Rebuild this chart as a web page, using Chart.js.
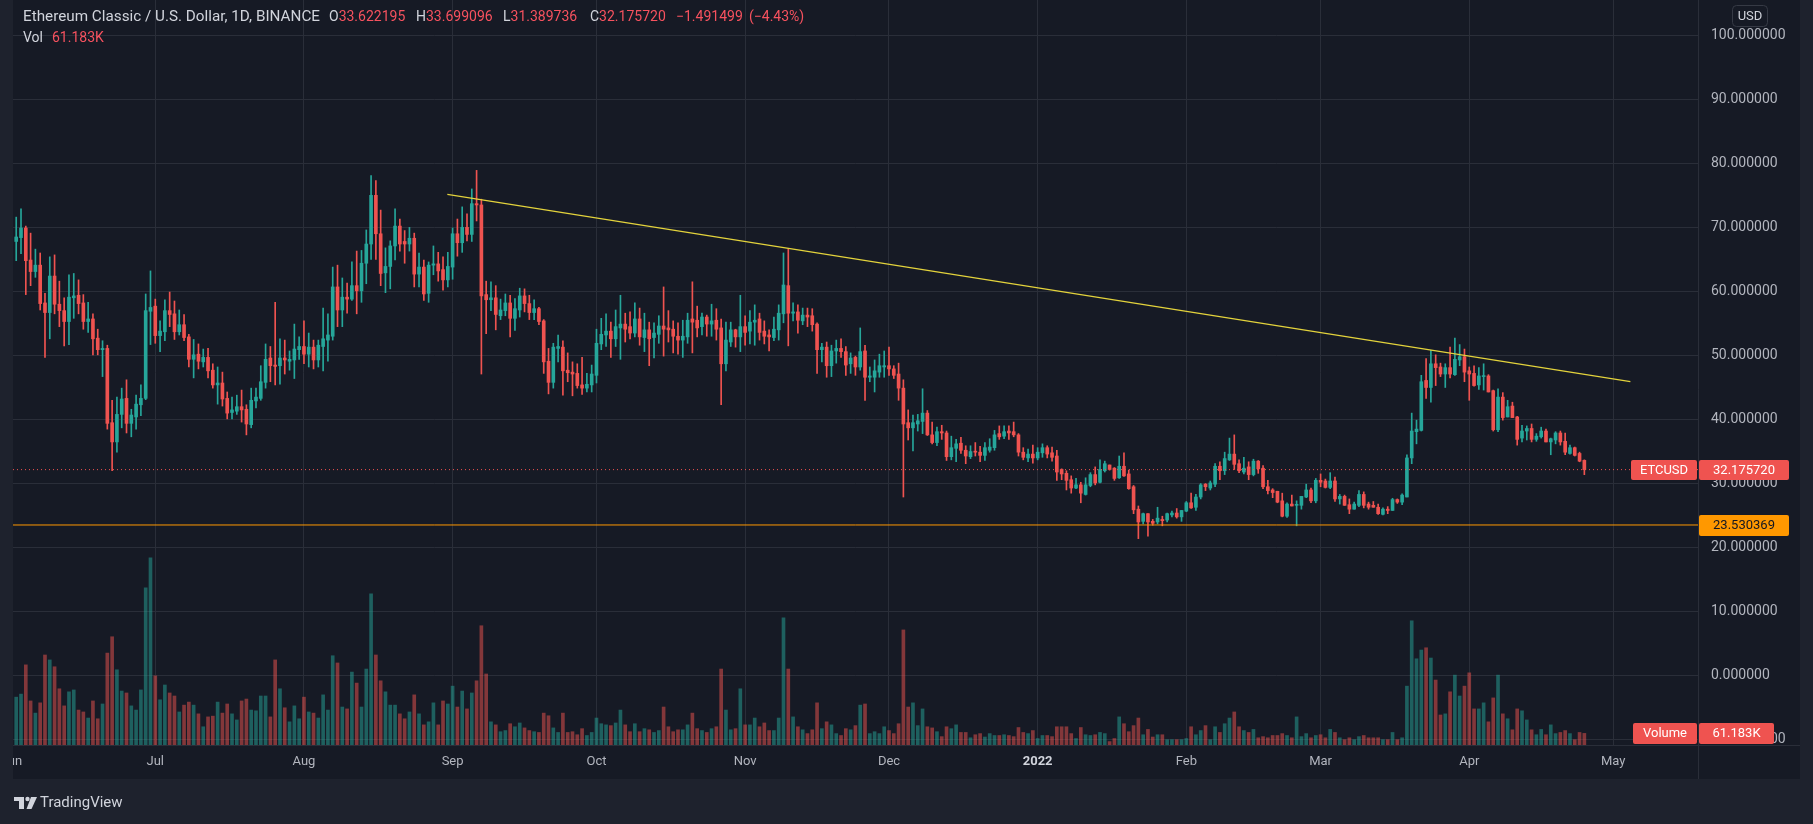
<!DOCTYPE html>
<html>
<head>
<meta charset="utf-8">
<script src="https://cdn.jsdelivr.net/npm/chart.js@4.4.1/dist/chart.umd.min.js"></script>
<style>
  html, body { margin: 0; padding: 0; background: #1e222d; overflow: hidden; }
  canvas { display: block; }
</style>
</head>
<body>
<canvas id="chart" width="1813" height="824"></canvas>
<script>
/* global Chart */

// ETC/USD daily candles, 2 Jun 2021 .. 25 Apr 2022 (one value per day)
const startDay = Date.UTC(2021, 5, 2);

const opens = [
  67.8,68.4,69.9,64.9,63.1,64.1,58.2,56.7,62.4,58.0,57.0,55.3,59.0,59.4,58.2,55.3,55.7,52.7,50.9,51.1,39.5,36.5,40.8,43.3,39.4,40.4,42.3,43.3,56.9,
  57.7,53.1,53.7,57.0,56.5,53.7,54.8,52.9,49.4,50.2,49.0,49.7,47.7,45.4,45.7,43.3,
  41.1,41.3,42.0,41.6,39.2,42.9,43.3,45.8,49.6,48.5,48.4,49.6,49.1,49.3,50.9,
  51.4,50.2,51.3,49.3,51.4,52.4,53.0,60.7,57.1,59.1,58.8,60.9,60.1,64.4,67.4,75.0,69.0,62.9,63.9,67.1,70.2,67.8,67.4,68.3,62.7,63.8,59.7,64.1,64.3,63.4,61.8,
  63.8,69.0,67.6,70.0,68.9,73.7,73.5,59.5,58.7,59.0,56.2,57.0,58.2,55.8,57.1,59.3,58.1,56.7,57.3,55.4,49.1,45.8,51.1,51.3,47.7,47.4,47.2,45.4,44.9,45.4,
  46.9,51.8,53.2,53.8,52.6,54.3,54.9,54.5,53.5,55.7,52.8,54.0,52.8,53.3,54.6,54.3,54.1,53.0,52.4,52.9,55.7,55.5,54.5,56.0,54.9,55.5,54.3,48.7,52.1,54.0,52.9,
  54.5,53.8,55.2,55.7,53.8,53.2,52.8,54.0,56.5,60.9,56.6,56.8,55.4,56.3,56.2,54.9,50.9,51.3,48.4,50.7,51.1,50.6,48.7,49.7,48.2,50.7,46.6,46.6,47.4,48.2,
  48.4,47.9,47.1,44.9,39.5,38.7,39.3,39.7,41.0,37.6,36.4,38.1,37.9,34.2,35.5,36.3,35.2,34.2,35.0,34.9,34.4,35.2,35.6,37.8,37.4,38.2,38.1,37.6,34.9,34.0,34.6,
  34.0,34.8,35.6,34.8,34.3,32.2,31.6,30.6,29.3,29.8,28.3,29.7,31.4,30.2,32.0,32.9,32.4,30.9,32.7,31.5,29.5,26.0,24.1,25.3,24.1,24.0,24.4,24.3,25.1,25.4,24.8,
  25.7,27.0,26.3,27.9,29.9,29.3,29.9,32.7,32.0,33.7,34.6,33.1,31.8,32.6,31.4,33.5,32.4,29.5,29.0,28.8,27.3,24.9,26.8,26.6,26.6,27.9,29.0,27.3,
  30.5,30.4,29.4,30.4,27.6,28.0,26.7,26.0,26.6,28.3,26.8,26.6,26.3,25.2,26.0,25.8,27.5,27.1,27.9,34.0,38.1,38.3,46.1,45.0,48.7,48.2,47.1,48.1,47.0,49.3,49.8,
  47.6,47.2,45.4,46.7,46.8,44.5,38.4,43.5,40.4,42.1,40.4,37.1,38.2,38.6,36.9,37.3,38.2,36.5,36.8,37.9,36.6,34.7,35.6,34.7,33.622195
];

const highs = [
  71.6,72.9,70.2,69.1,66.6,66.0,59.7,65.4,65.7,61.6,59.0,62.6,62.8,61.8,59.5,58.3,56.5,54.1,52.3,51.6,43.0,43.5,44.9,46.2,41.6,43.8,45.4,59.6,63.2,
  58.8,55.4,58.7,59.9,58.5,57.1,56.4,53.3,52.5,51.8,51.0,51.1,48.7,48.2,47.4,44.3,
  43.5,43.8,44.6,42.3,44.9,44.9,48.4,51.8,51.4,58.3,52.6,52.4,50.7,54.9,52.9,
  55.4,53.5,52.4,52.4,57.4,56.5,63.8,64.1,62.1,61.3,64.6,66.3,66.4,69.6,78.1,77.3,72.7,66.8,67.9,72.9,71.3,69.5,70.0,69.1,66.0,64.9,64.6,67.1,66.1,65.4,66.1,
  69.9,71.3,73.2,72.1,76.0,78.9,74.4,61.6,61.5,60.9,58.8,59.6,59.4,58.9,60.5,60.4,59.4,58.7,57.5,55.6,51.1,51.9,53.2,52.3,50.4,49.0,48.7,49.7,47.2,48.5,
  54.1,55.8,56.5,55.2,57.1,59.4,56.6,56.8,58.2,57.4,56.6,55.2,55.1,56.2,60.7,57.0,55.4,55.1,55.5,56.6,61.5,57.7,56.6,56.3,58.0,57.3,55.7,55.2,55.2,54.1,59.4,
  56.2,57.0,57.9,56.6,55.4,54.0,56.0,57.9,66.0,66.6,58.2,57.9,57.4,57.4,57.3,55.1,51.9,52.1,51.6,52.4,52.6,51.4,50.4,49.9,54.3,51.6,48.2,49.3,50.2,50.7,
  51.3,48.4,48.8,46.2,41.5,40.7,40.8,44.8,41.4,39.6,38.8,39.1,38.2,37.4,36.9,37.2,35.9,35.9,36.4,35.8,36.4,37.0,38.3,39.0,39.0,39.0,39.6,37.8,35.6,35.4,36.0,
  35.6,36.2,35.9,35.7,35.2,32.3,32.0,31.2,30.8,30.2,30.9,31.7,32.6,33.7,33.5,32.9,32.5,34.3,34.8,32.1,29.7,26.5,25.4,25.3,24.4,26.3,24.9,25.4,25.7,26.1,25.8,
  27.2,28.5,28.3,30.0,30.0,30.4,33.1,33.4,34.9,37.1,37.6,33.7,34.1,33.4,33.8,33.6,32.8,30.5,29.2,28.8,28.5,27.0,28.2,27.3,28.0,29.9,29.3,30.8,
  31.5,30.7,31.7,31.0,28.3,28.2,27.6,27.1,28.9,28.7,27.1,27.2,26.8,26.2,26.4,27.7,27.6,28.4,34.5,41.0,39.9,46.9,49.5,50.8,50.1,48.8,48.7,51.3,52.7,51.7,51.0,
  48.2,48.4,48.1,48.7,47.0,44.6,44.8,44.2,43.0,42.7,40.5,39.1,39.0,39.3,37.8,38.8,38.5,37.1,38.1,38.2,37.9,36.0,35.7,34.9,33.699096
];

const lows = [
  64.8,65.9,59.5,60.9,62.2,57.1,49.7,52.6,56.5,54.5,51.5,51.7,55.8,56.5,54.1,53.6,50.1,50.1,46.7,38.5,32.0,34.9,38.7,37.9,37.3,38.5,40.6,43.1,51.7,
  51.9,50.6,52.3,54.5,52.5,53.2,52.3,48.2,46.5,47.9,48.2,46.5,44.9,42.4,42.1,40.1,
  40.1,40.8,39.6,37.6,38.7,41.8,43.0,44.9,45.9,45.4,45.5,47.1,47.7,46.4,49.4,
  48.7,48.2,47.9,48.2,47.6,49.1,52.4,54.5,54.5,56.6,58.6,56.5,58.3,61.2,65.0,65.0,60.9,59.8,60.4,64.9,66.3,64.4,66.3,60.7,60.7,58.6,58.3,62.6,61.6,60.2,60.7,
  61.9,65.5,66.1,67.9,67.8,71.0,47.1,53.4,57.0,54.0,55.6,56.2,52.9,53.9,56.0,56.8,55.6,55.6,54.8,47.2,44.0,44.9,49.0,43.8,45.9,43.7,44.9,43.9,44.3,44.3,
  45.7,50.9,51.4,49.7,51.4,49.4,52.1,52.6,52.9,51.6,50.6,48.4,49.6,51.9,49.9,52.1,50.4,50.2,49.7,51.9,50.4,52.9,53.2,53.0,53.0,52.4,42.3,47.6,51.4,51.3,50.6,
  51.6,51.8,51.6,52.4,51.8,50.7,52.3,52.4,55.1,51.5,55.4,53.5,54.8,54.5,53.8,47.2,49.0,46.6,46.7,48.8,49.7,46.9,47.2,46.9,47.7,43.0,45.9,44.3,46.6,46.6,
  46.9,46.4,43.0,27.9,36.8,35.1,38.2,37.8,37.5,36.2,35.9,36.9,33.6,33.7,33.4,34.7,33.1,33.9,34.3,33.4,33.6,34.9,35.2,36.9,37.0,36.9,37.3,34.3,33.7,33.4,33.2,
  33.7,34.1,34.0,33.5,30.5,30.6,29.0,28.5,29.2,27.0,28.2,29.5,29.8,30.1,31.8,32.1,30.5,30.8,31.1,29.1,25.3,21.4,23.7,21.8,23.5,23.7,23.4,24.0,24.8,24.6,24.1,
  25.6,26.1,25.8,27.6,28.9,29.0,29.5,30.6,31.4,33.6,32.2,31.7,31.5,30.6,31.2,31.6,29.2,28.4,27.8,27.0,24.8,24.7,26.5,23.4,26.0,27.8,27.0,27.0,
  29.5,29.3,29.2,27.2,26.8,26.6,25.3,26.0,26.4,26.2,26.0,26.3,25.2,25.1,25.3,25.8,26.9,26.7,27.9,33.1,36.2,38.2,43.3,42.7,45.3,46.7,45.0,46.5,46.9,48.4,45.9,
  43.0,45.2,44.7,44.6,44.3,38.2,38.1,39.9,40.4,40.3,36.0,36.5,36.8,36.5,36.6,37.1,36.5,34.5,36.2,36.0,34.5,34.6,34.3,33.4,31.389736
];

const closes = [
  68.5,69.9,64.8,63.1,64.1,58.1,56.7,62.4,58.0,57.0,55.3,59.1,59.3,58.1,55.3,55.7,52.6,50.9,51.1,39.4,36.5,40.8,43.2,39.4,40.7,42.4,43.3,57.0,57.5,
  53.1,53.8,57.0,56.4,53.7,54.8,52.8,49.4,50.1,49.1,49.7,47.6,45.4,45.7,43.2,41.0,
  41.5,42.0,41.5,39.3,43.0,43.5,45.9,49.4,48.4,48.3,49.6,49.3,49.4,51.0,51.4,
  50.2,51.3,49.3,51.6,52.6,53.2,60.7,57.1,59.1,58.8,60.9,60.1,64.4,67.4,75.0,69.0,62.8,63.9,67.1,70.2,67.4,67.4,68.3,62.7,63.8,59.6,64.1,64.3,63.2,61.8,63.9,
  69.0,67.6,70.0,68.9,73.7,73.5,59.3,58.7,59.0,56.4,57.1,58.2,55.8,57.3,59.3,58.1,56.7,57.3,55.3,49.0,45.8,51.3,51.4,47.6,47.3,47.1,45.3,44.9,45.5,47.1,
  51.9,53.3,53.8,52.6,54.5,54.9,54.1,53.5,55.7,52.9,54.0,52.6,53.5,54.6,54.1,54.0,53.0,52.4,53.0,55.5,55.2,54.3,56.0,54.9,55.4,54.1,48.7,52.4,54.0,52.9,54.5,
  53.6,55.2,55.5,53.6,53.0,52.9,54.1,56.6,61.0,56.6,56.8,55.5,56.3,56.0,54.8,50.9,51.3,48.4,50.7,51.1,50.6,48.5,49.6,48.2,50.6,46.6,46.8,47.6,48.4,48.4,
  47.9,46.9,44.9,39.3,38.7,39.5,39.8,41.0,37.6,36.4,38.1,37.9,34.2,35.6,36.2,35.2,34.3,35.0,34.9,34.4,35.6,35.7,37.6,37.3,38.1,37.9,37.6,34.9,34.1,34.6,34.0,
  34.9,35.6,34.6,34.1,31.8,31.5,30.5,29.3,29.8,28.5,29.8,31.4,30.1,32.2,33.1,32.2,30.8,32.7,31.2,29.2,25.9,24.0,25.3,24.0,23.8,24.6,24.2,25.3,25.4,24.8,25.8,
  27.0,26.2,27.9,29.8,29.5,30.1,32.7,32.0,33.9,34.6,33.0,32.0,32.4,31.4,33.5,32.3,29.5,28.9,28.6,27.1,24.9,26.8,26.5,26.7,28.0,29.0,27.3,30.5,
  30.2,29.4,30.4,27.6,28.0,26.6,26.0,26.8,28.3,26.6,26.3,26.3,25.3,26.0,25.8,27.5,27.1,28.2,34.0,38.2,38.5,45.9,45.0,48.7,48.1,47.1,48.1,47.1,49.4,49.8,47.4,
  47.1,45.3,46.8,46.8,44.3,38.4,43.5,40.3,42.0,40.3,36.9,38.2,38.6,36.9,37.4,38.2,36.5,37.0,37.9,36.5,34.9,35.6,34.4,33.5,32.175720
];

// daily volume, thousands
const volumes = [
  252,268,422,232,168,222,474,448,412,296,206,280,290,184,174,142,232,138,216,484,570,396,284,274,206,184,290,828,986,
  364,238,316,274,258,174,210,226,210,164,96,148,152,226,168,216,
  164,132,232,242,184,180,258,258,148,448,296,196,122,206,138,
  252,174,168,142,264,184,470,432,200,190,384,326,200,400,796,474,338,280,210,210,164,138,174,264,164,106,122,222,106,232,216,
  310,200,284,190,274,338,628,374,122,106,70,76,112,96,116,90,76,70,66,168,154,90,66,168,66,70,54,86,50,66,
  142,112,106,102,116,184,106,70,112,70,86,80,66,76,200,96,70,80,80,106,168,86,76,66,86,96,400,184,80,86,296,
  106,106,142,96,116,76,76,142,670,400,148,96,80,60,80,222,86,122,106,60,50,86,80,102,210,216,60,70,60,96,
  76,60,112,606,200,222,102,190,96,90,70,44,96,86,106,66,66,38,54,60,42,60,50,50,54,50,44,92,66,60,76,
  34,50,50,44,96,96,96,60,34,92,54,50,54,66,60,18,34,148,112,70,102,142,54,82,42,54,54,28,28,28,28,
  34,96,54,76,102,28,96,66,112,142,174,96,76,66,82,38,44,38,50,50,60,50,38,148,44,60,38,50,
  54,38,82,66,38,28,38,28,44,50,38,38,38,28,28,66,28,38,310,654,454,500,512,458,342,158,164,280,368,258,310,
  380,190,190,222,122,248,368,164,138,80,190,180,132,80,54,82,54,106,60,66,76,60,28,66,61.183
];

// month ticks along the time axis, first one is 1 Jun 2021
const tickLabels = ["Jun", "Jul", "Aug", "Sep", "Oct", "Nov", "Dec", "2022", "Feb", "Mar", "Apr", "May"];
const priceTicks = [-10, 0, 10, 20, 30, 40, 50, 60, 70, 80, 90, 100];

// drawn levels: falling resistance (day index, price) and horizontal support
const trendDays = [89.9, 336.6];
const trendPrices = [75.15, 45.9];
const supportLevel = 23.530369;

const symbolTitle = "Ethereum Classic / U.S. Dollar, 1D, BINANCE";
const dayChange = -1.491499;
const dayChangePct = -4.43;

const UP = "#26a69a";
const DOWN = "#ef5350";
const UP_VOL = "rgba(38,166,154,0.5)";
const DOWN_VOL = "rgba(239,83,80,0.5)";
const PANE = "#161a25";
const FRAME = "#1e222d";
const LINE = "#2a2e39";
const TEXT = "#d1d4dc";
const AXIS_TEXT = "#b2b5be";
const RED_TEXT = "#f7525f";
const FONT = "Roboto";

const X_MIN = -0.67;
const X_MAX = 350.7;
const DAY = 86400000;

const monthTicks = tickLabels.map((_, k) => (Date.UTC(2021, 5 + k, 1) - startDay) / DAY);
const lastClose = closes[closes.length - 1];

const isUp = (i) => closes[i] >= opens[i];
const idx = opens.map((_, i) => i);
const candleColors = idx.map((i) => (isUp(i) ? UP : DOWN));
const volColors = idx.map((i) => (isUp(i) ? UP_VOL : DOWN_VOL));

const fmtPrice = (v) => v.toFixed(6).replace("-", "\u2212");

function labelBox(ctx, x, y, w, h, fill, text, color) {
  ctx.fillStyle = fill;
  ctx.beginPath();
  ctx.roundRect(x, y, w, h, 2);
  ctx.fill();
  ctx.fillStyle = color;
  ctx.textAlign = "center";
  ctx.fillText(text, x + w / 2, y + h / 2 + 0.5);
}

// draw text squeezed/stretched to a given width
function fitText(ctx, text, x, y, w) {
  const m = ctx.measureText(text).width;
  ctx.save();
  ctx.translate(x, y);
  ctx.scale(w / m, 1);
  ctx.fillText(text, 0, 0);
  ctx.restore();
}

const decor = {
  id: "decor",
  beforeDraw(chart) {
    const { ctx, width, height, chartArea: a, scales } = chart;
    ctx.save();
    ctx.fillStyle = FRAME;
    ctx.fillRect(0, 0, width, height);
    ctx.fillStyle = PANE;
    ctx.fillRect(a.left, 0, scales.y.right - a.left, scales.x.bottom);
    ctx.restore();
  },
  afterDraw(chart) {
    const { ctx, chartArea: a, scales } = chart;
    const y = scales.y;
    const yv = scales.yv;
    const xb = scales.x.bottom;
    ctx.save();

    // outer frame on the left clips the first month label
    ctx.fillStyle = FRAME;
    ctx.fillRect(0, 0, a.left, xb);

    // pane dividers
    ctx.strokeStyle = LINE;
    ctx.lineWidth = 1;
    ctx.beginPath();
    ctx.moveTo(a.right + 0.5, 0);
    ctx.lineTo(a.right + 0.5, xb);
    ctx.moveTo(a.left, a.bottom + 0.5);
    ctx.lineTo(y.right, a.bottom + 0.5);
    ctx.stroke();

    // legend lines
    ctx.textBaseline = "middle";
    ctx.textAlign = "left";
    ctx.font = `14px ${FONT}`;
    ctx.fillStyle = TEXT;
    fitText(ctx, symbolTitle, 23, 17, 297);
    const n = closes.length - 1;
    const ohlc = [["O", opens[n], 329], ["H", highs[n], 416], ["L", lows[n], 503], ["C", closes[n], 590]];
    for (const [k, v, x] of ohlc) {
      ctx.fillStyle = TEXT;
      ctx.fillText(k, x, 17);
      ctx.fillStyle = RED_TEXT;
      ctx.fillText(v.toFixed(6), x + ctx.measureText(k).width, 17);
    }
    ctx.fillStyle = RED_TEXT;
    ctx.fillText(fmtPrice(dayChange), 676, 17);
    ctx.fillText(`(${dayChangePct.toFixed(2).replace("-", "\u2212")}%)`, 749, 17);
    ctx.fillStyle = TEXT;
    ctx.fillText("Vol", 23, 38);
    ctx.fillStyle = RED_TEXT;
    ctx.fillText(`${volumes[n].toFixed(3)}K`, 52, 38);

    // price scale labels
    ctx.font = `13px ${FONT}`;
    const axL = a.right + 1;
    const yc = Math.round(y.getPixelForValue(lastClose));
    labelBox(ctx, a.right - 67, yc - 10, 66, 20, DOWN, "ETCUSD", "#ffffff");
    labelBox(ctx, axL, yc - 10, 90, 20, DOWN, fmtPrice(lastClose), "#ffffff");
    const ys = Math.round(y.getPixelForValue(supportLevel));
    labelBox(ctx, axL, ys - 10, 90, 21, "#ff9800", fmtPrice(supportLevel), "#131722");
    const yvol = Math.min(Math.round(yv.getPixelForValue(volumes[n])), a.bottom - 11);
    labelBox(ctx, a.right - 65, yvol - 10, 64, 21, DOWN, "Volume", "#ffffff");
    labelBox(ctx, axL, yvol - 10, 75, 21, DOWN, `${volumes[n].toFixed(3)}K`, "#ffffff");

    // currency badge
    ctx.strokeStyle = "#363a45";
    ctx.fillStyle = PANE;
    ctx.beginPath();
    ctx.roundRect(1732.5, 5.5, 35, 21, 4);
    ctx.fill();
    ctx.stroke();
    ctx.fillStyle = TEXT;
    ctx.textAlign = "center";
    ctx.fillText("USD", 1750, 16.5);

    // TradingView logo
    const ly = 803;
    ctx.fillStyle = TEXT;
    ctx.fillRect(14, ly - 6, 10, 4);
    ctx.fillRect(19, ly - 6, 5, 12);
    ctx.beginPath();
    ctx.arc(27.5, ly - 4, 2.2, 0, Math.PI * 2);
    ctx.fill();
    ctx.beginPath();
    ctx.moveTo(31, ly - 6);
    ctx.lineTo(37, ly - 6);
    ctx.lineTo(31.5, ly + 6);
    ctx.lineTo(26.5, ly + 6);
    ctx.closePath();
    ctx.fill();
    ctx.textAlign = "left";
    ctx.font = `15px ${FONT}`;
    ctx.fillText("TradingView", 40, ly);

    ctx.restore();
  },
};

Chart.defaults.font.family = FONT;

new Chart(document.getElementById("chart"), {
  type: "bar",
  data: {
    datasets: [
      {
        type: "line",
        data: trendDays.map((d, k) => ({ x: d, y: trendPrices[k] })),
        borderColor: "#e3d33c",
        borderWidth: 1.3,
        pointRadius: 0,
        yAxisID: "y",
        order: 0,
      },
      {
        type: "line",
        data: [{ x: X_MIN, y: supportLevel }, { x: X_MAX, y: supportLevel }],
        borderColor: "#ff9800",
        borderWidth: 1,
        pointRadius: 0,
        yAxisID: "y",
        order: 0,
      },
      {
        type: "line",
        data: [{ x: X_MIN, y: lastClose }, { x: X_MAX, y: lastClose }],
        borderColor: DOWN,
        borderWidth: 1,
        borderDash: [1, 3],
        pointRadius: 0,
        yAxisID: "y",
        order: 0,
      },
      {
        label: "body",
        data: idx.map((i) => ({ x: i, y: [opens[i], closes[i]] })),
        backgroundColor: candleColors,
        barThickness: 3,
        minBarLength: 1,
        grouped: false,
        yAxisID: "y",
        order: 1,
      },
      {
        label: "wick",
        data: idx.map((i) => ({ x: i, y: [lows[i], highs[i]] })),
        backgroundColor: candleColors,
        barThickness: 1,
        grouped: false,
        yAxisID: "y",
        order: 2,
      },
      {
        label: "volume",
        data: idx.map((i) => ({ x: i, y: volumes[i] })),
        backgroundColor: volColors,
        barThickness: 3,
        grouped: false,
        yAxisID: "yv",
        order: 3,
      },
    ],
  },
  options: {
    responsive: false,
    animation: false,
    devicePixelRatio: 1,
    layout: { padding: { left: 13, right: 13, top: 0, bottom: 45 } },
    plugins: { legend: { display: false }, tooltip: { enabled: false } },
    scales: {
      x: {
        type: "linear",
        min: X_MIN,
        max: X_MAX,
        offset: false,
        grid: { color: LINE, offset: false, drawTicks: false },
        border: { display: false },
        afterBuildTicks: (s) => {
          s.ticks = monthTicks.map((v) => ({ value: v }));
        },
        afterFit: (s) => {
          s.height = 34;
          s.paddingLeft = 0;
          s.paddingRight = 0;
        },
        ticks: {
          autoSkip: false,
          maxRotation: 0,
          padding: 9,
          callback: (v, i) => tickLabels[i],
          color: (c) => (c.tick && c.tick.label === "2022" ? TEXT : AXIS_TEXT),
          font: (c) => ({ size: 13, weight: c.tick && c.tick.label === "2022" ? "bold" : "normal" }),
        },
      },
      y: {
        position: "right",
        min: -10.82,
        max: 105.5,
        grid: { color: LINE, drawTicks: false },
        border: { display: false },
        afterBuildTicks: (s) => {
          s.ticks = priceTicks.map((v) => ({ value: v }));
        },
        afterFit: (s) => {
          s.width = 102;
          s.paddingTop = 0;
          s.paddingBottom = 0;
        },
        ticks: {
          padding: 13,
          color: AXIS_TEXT,
          font: { size: 14 },
          callback: (v) => fmtPrice(v),
        },
      },
      yv: {
        display: false,
        min: 0,
        max: 3923,
      },
    },
  },
  plugins: [decor],
});
</script>
</body>
</html>
